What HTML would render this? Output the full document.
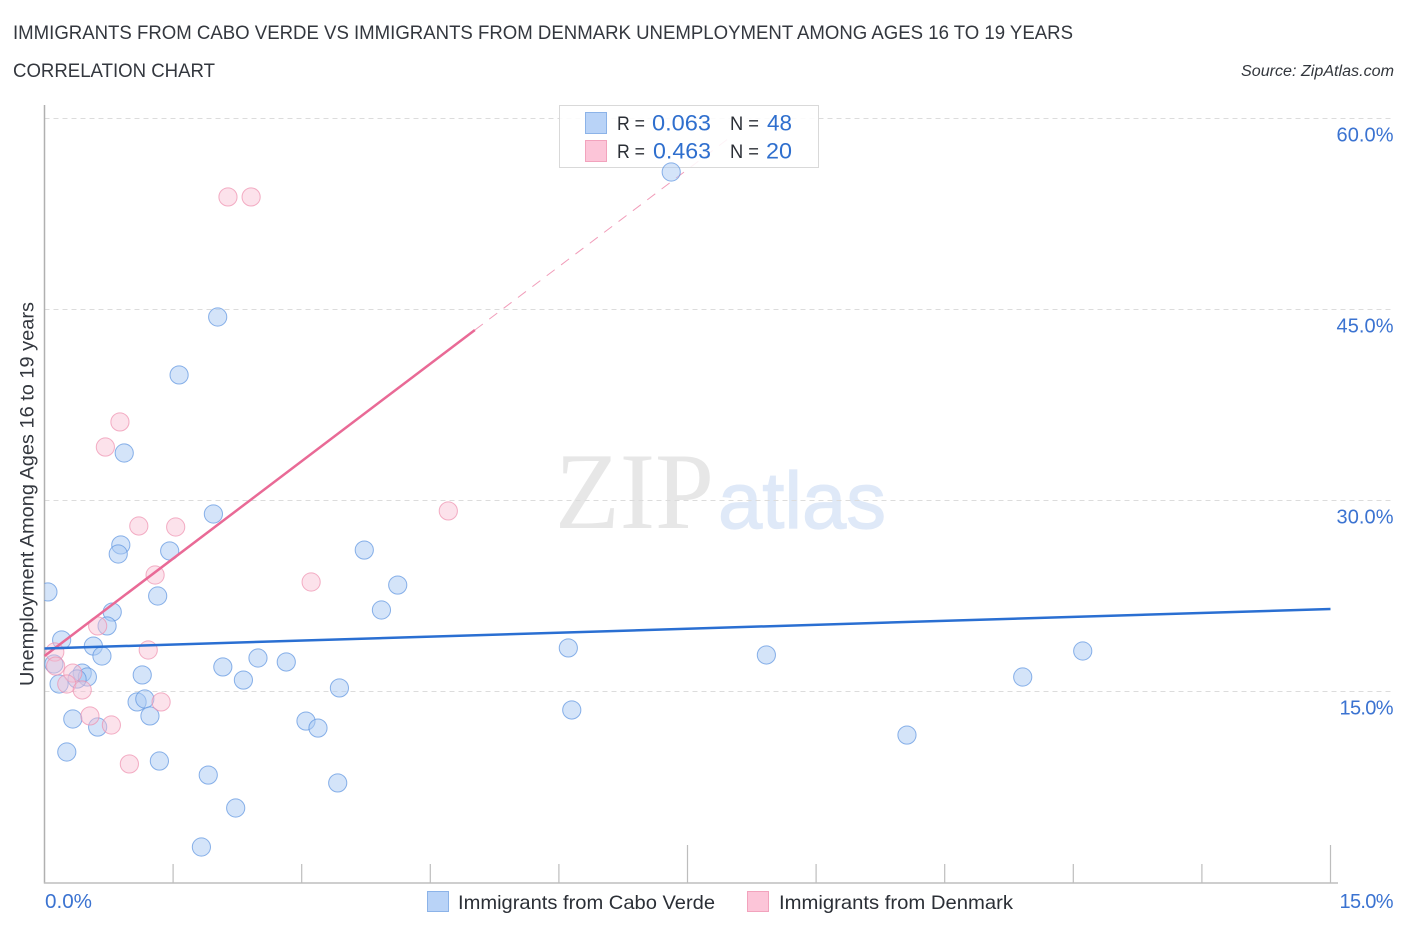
<!DOCTYPE html>
<html lang="en">
<head>
<meta charset="utf-8">
<title>Immigrants from Cabo Verde vs Immigrants from Denmark Unemployment Correlation Chart</title>
<style>
html,body{margin:0;padding:0;background:#fff;width:1406px;height:930px;overflow:hidden}
svg{display:block;font-family:"Liberation Sans",sans-serif}
</style>
</head>
<body>
<svg id="chart" xmlns="http://www.w3.org/2000/svg" width="1406" height="930" viewBox="0 0 1406 930">
  <defs>
    <clipPath id="plot-clip"><rect x="44.5" y="100" width="1300" height="783"/></clipPath>
  </defs>
  <rect x="0" y="0" width="1406" height="930" fill="#ffffff"/>

  <text x="13" y="39" font-size="19" fill="#33373e" textLength="1060" lengthAdjust="spacingAndGlyphs">IMMIGRANTS FROM CABO VERDE VS IMMIGRANTS FROM DENMARK UNEMPLOYMENT AMONG AGES 16 TO 19 YEARS</text>
  <text x="13" y="77" font-size="19" fill="#33373e" textLength="202" lengthAdjust="spacingAndGlyphs">CORRELATION CHART</text>
  <text x="1241" y="76" font-size="15.5" font-style="italic" fill="#33373d" textLength="153" lengthAdjust="spacingAndGlyphs">Source: ZipAtlas.com</text>

  <g>
    <text x="555" y="528" font-family="'Liberation Serif',serif" font-size="109" fill="#e7e7e7" textLength="159" lengthAdjust="spacingAndGlyphs">ZIP</text>
    <text x="718" y="528" font-family="'Liberation Sans',sans-serif" font-size="80" fill="#dfe9f8" stroke="#dfe9f8" stroke-width="1.2" textLength="168" lengthAdjust="spacingAndGlyphs">atlas</text>
  </g>

  <g id="grid"></g>
  <g id="axes"></g>
  <g id="projection"></g>

  <g>
    <rect x="559.5" y="105.5" width="259" height="62" fill="#ffffff" fill-opacity="0.88" stroke="#d9d9d9" stroke-width="1"/>
    <rect x="585.5" y="112.5" width="21" height="21" fill="#b9d3f7" stroke="#8cb3e8" stroke-width="1"/>
    <text x="617" y="130" font-size="19.5" fill="#2b2f36" textLength="28" lengthAdjust="spacingAndGlyphs">R =</text>
    <text x="652" y="130.500" font-size="22" fill="#2f6fce" textLength="59" lengthAdjust="spacingAndGlyphs">0.063</text>
    <text x="730" y="130" font-size="19.5" fill="#2b2f36" textLength="29" lengthAdjust="spacingAndGlyphs">N =</text>
    <text x="767" y="130.500" font-size="22" fill="#2f6fce" textLength="25" lengthAdjust="spacingAndGlyphs">48</text>
    <rect x="585.5" y="140.5" width="21" height="21" fill="#fcc5d8" stroke="#f2a3bd" stroke-width="1"/>
    <text x="617" y="158" font-size="19.5" fill="#2b2f36" textLength="28" lengthAdjust="spacingAndGlyphs">R =</text>
    <text x="653" y="158.500" font-size="22" fill="#2f6fce" textLength="58" lengthAdjust="spacingAndGlyphs">0.463</text>
    <text x="730" y="158" font-size="19.5" fill="#2b2f36" textLength="29" lengthAdjust="spacingAndGlyphs">N =</text>
    <text x="766" y="158.500" font-size="22" fill="#2f6fce" textLength="26" lengthAdjust="spacingAndGlyphs">20</text>
  </g>

  <g id="points" clip-path="url(#plot-clip)"></g>
  <g id="trends"></g>
  <g id="labels"></g>

  <text transform="translate(33.5,686) rotate(-90)" font-size="19.5" fill="#33373e" textLength="384" lengthAdjust="spacingAndGlyphs">Unemployment Among Ages 16 to 19 years</text>

  <g>
    <rect x="427.5" y="891.5" width="21" height="20" fill="#b9d3f7" stroke="#8cb3e8" stroke-width="1"/>
    <text x="458" y="909" font-size="19.5" fill="#2b2f36" textLength="257" lengthAdjust="spacingAndGlyphs">Immigrants from Cabo Verde</text>
    <rect x="747.5" y="891.5" width="21" height="20" fill="#fcc5d8" stroke="#f2a3bd" stroke-width="1"/>
    <text x="779" y="909" font-size="19.5" fill="#2b2f36" textLength="234" lengthAdjust="spacingAndGlyphs">Immigrants from Denmark</text>
  </g>
</svg>

<script>
const yTickValues = [15, 30, 45, 60];
const yTickLabels = ['15.0%', '30.0%', '45.0%', '60.0%'];
const xTickValues = [0, 1.5, 3, 4.5, 6, 7.5, 9, 10.5, 12, 13.5, 15];
const xMajorTicks = [7.5, 15];
const xEndLabels = ['0.0%', '15.0%'];

const caboVerdeX = [7.31, 2.02, 1.57, 0.93, 1.97, 0.89, 0.86, 1.46, 0.04, 1.32, 0.79, 0.73, 0.20, 0.57, 0.67, 0.11, 0.44, 0.50, 0.38, 0.17, 1.14, 2.08, 2.49, 2.82, 2.32, 3.44, 1.08, 1.17, 1.23, 0.33, 0.62, 3.05, 3.19, 0.26, 1.34, 1.91, 3.42, 2.23, 1.83, 3.73, 4.12, 3.93, 6.11, 8.42, 12.11, 11.41, 6.15, 10.06];
const caboVerdeY = [55.76, 44.37, 39.82, 33.69, 28.90, 26.47, 25.76, 26.00, 22.78, 22.46, 21.20, 20.11, 19.01, 18.53, 17.75, 17.12, 16.41, 16.10, 15.94, 15.55, 16.26, 16.89, 17.59, 17.28, 15.86, 15.24, 14.14, 14.37, 13.04, 12.80, 12.17, 12.64, 12.09, 10.21, 9.50, 8.40, 7.78, 5.81, 2.75, 26.07, 23.32, 21.36, 18.38, 17.83, 18.14, 16.10, 13.51, 11.54];
const denmarkX = [2.14, 2.41, 0.88, 0.71, 4.71, 1.10, 1.53, 1.29, 3.11, 0.62, 1.21, 0.12, 0.13, 0.33, 0.26, 0.44, 1.36, 0.53, 0.78, 0.99];
const denmarkY = [53.80, 53.80, 36.13, 34.16, 29.14, 27.96, 27.88, 24.11, 23.56, 20.11, 18.22, 18.06, 16.96, 16.41, 15.55, 15.08, 14.14, 13.04, 12.33, 9.27];

const caboVerdeTrendStart = [0, 18.34];
const caboVerdeTrendEnd = [15, 21.44];
const denmarkTrendStart = [0, 17.75];
const denmarkTrendSolidEnd = [5.02, 43.35];
const denmarkTrendDashEnd = [8.0, 58.5];

const NS = 'http://www.w3.org/2000/svg';
const X0 = 44.5, X15 = 1330.5, Y0 = 882, Y60 = 118;
function xScale(v) { return X0 + (v / 15) * (X15 - X0); }
function yScale(v) { return Y0 - (v / 60) * (Y0 - Y60); }
function make(parent, tag, attrs, text) {
  const el = document.createElementNS(NS, tag);
  for (const k in attrs) el.setAttribute(k, attrs[k]);
  if (text !== undefined) el.textContent = text;
  parent.appendChild(el);
  return el;
}

const grid = document.getElementById('grid');
yTickValues.forEach(function (v) {
  const y = Math.round(yScale(v)) + 0.5;
  const el = make(grid, 'line', { x1: X0, x2: 1394, y1: y, y2: y, stroke: '#dcdcdc', 'stroke-width': 1, 'stroke-dasharray': '5 4' });
  
  
});

const axes = document.getElementById('axes');
const yAxis = make(axes, 'line', { x1: 44.5, x2: 44.5, y1: 105, y2: 883.5, stroke: '#b0b0b0', 'stroke-width': 1.5 });


const xAxis = make(axes, 'line', { x1: 44, x2: 1338, y1: 883, y2: 883, stroke: '#bdbdbd', 'stroke-width': 1.5 });


xTickValues.forEach(function (v) {
  if (v === 0) return;
  const top = xMajorTicks.indexOf(v) >= 0 ? 845 : 864;
  const el = make(axes, 'line', { x1: xScale(v), x2: xScale(v), y1: top, y2: 883, stroke: '#bdbdbd', 'stroke-width': 1.2 });
  
  
});

const points = document.getElementById('points');
caboVerdeX.forEach(function (v, i) {
  const el = make(points, 'circle', { cx: xScale(v), cy: yScale(caboVerdeY[i]), r: 9.1, fill: '#a9c9f3', 'fill-opacity': 0.5, stroke: '#5b93e0', 'stroke-opacity': 0.7, 'stroke-width': 1 });
  
  
});
denmarkX.forEach(function (v, i) {
  const el = make(points, 'circle', { cx: xScale(v), cy: yScale(denmarkY[i]), r: 9.1, fill: '#f9bfd2', 'fill-opacity': 0.45, stroke: '#ee8fae', 'stroke-opacity': 0.7, 'stroke-width': 1 });
  
  
});

const projection = document.getElementById('projection');
const dash = make(projection, 'line', { x1: xScale(denmarkTrendSolidEnd[0]), y1: yScale(denmarkTrendSolidEnd[1]), x2: xScale(denmarkTrendDashEnd[0]), y2: yScale(denmarkTrendDashEnd[1]), stroke: '#ec7ba2', 'stroke-width': 1, 'stroke-dasharray': '10 8', 'stroke-opacity': 0.75 });



const trends = document.getElementById('trends');
const pink = make(trends, 'line', { x1: xScale(denmarkTrendStart[0]), y1: yScale(denmarkTrendStart[1]), x2: xScale(denmarkTrendSolidEnd[0]), y2: yScale(denmarkTrendSolidEnd[1]), stroke: '#e96a96', 'stroke-width': 2.5 });


const blue = make(trends, 'line', { x1: xScale(caboVerdeTrendStart[0]), y1: yScale(caboVerdeTrendStart[1]), x2: xScale(caboVerdeTrendEnd[0]), y2: yScale(caboVerdeTrendEnd[1]), stroke: '#2a6fd2', 'stroke-width': 2.5 });



const labels = document.getElementById('labels');
yTickLabels.forEach(function (t, i) {
  const el = make(labels, 'text', { x: 1393.5, y: yScale(yTickValues[i]) + 23.5, 'text-anchor': 'end', 'font-size': 20, fill: '#3b73d1', textLength: t.charAt(0) === '1' ? 54 : 57, lengthAdjust: 'spacing' }, t);
  
  
});
const xLeft = make(labels, 'text', { x: 45, y: 908, 'font-size': 20, fill: '#3b73d1', textLength: 47, lengthAdjust: 'spacingAndGlyphs' }, xEndLabels[0]);


const xRight = make(labels, 'text', { x: 1393.5, y: 908, 'text-anchor': 'end', 'font-size': 20, fill: '#3b73d1', textLength: 54, lengthAdjust: 'spacing' }, xEndLabels[1]);


</script>
</body>
</html>
